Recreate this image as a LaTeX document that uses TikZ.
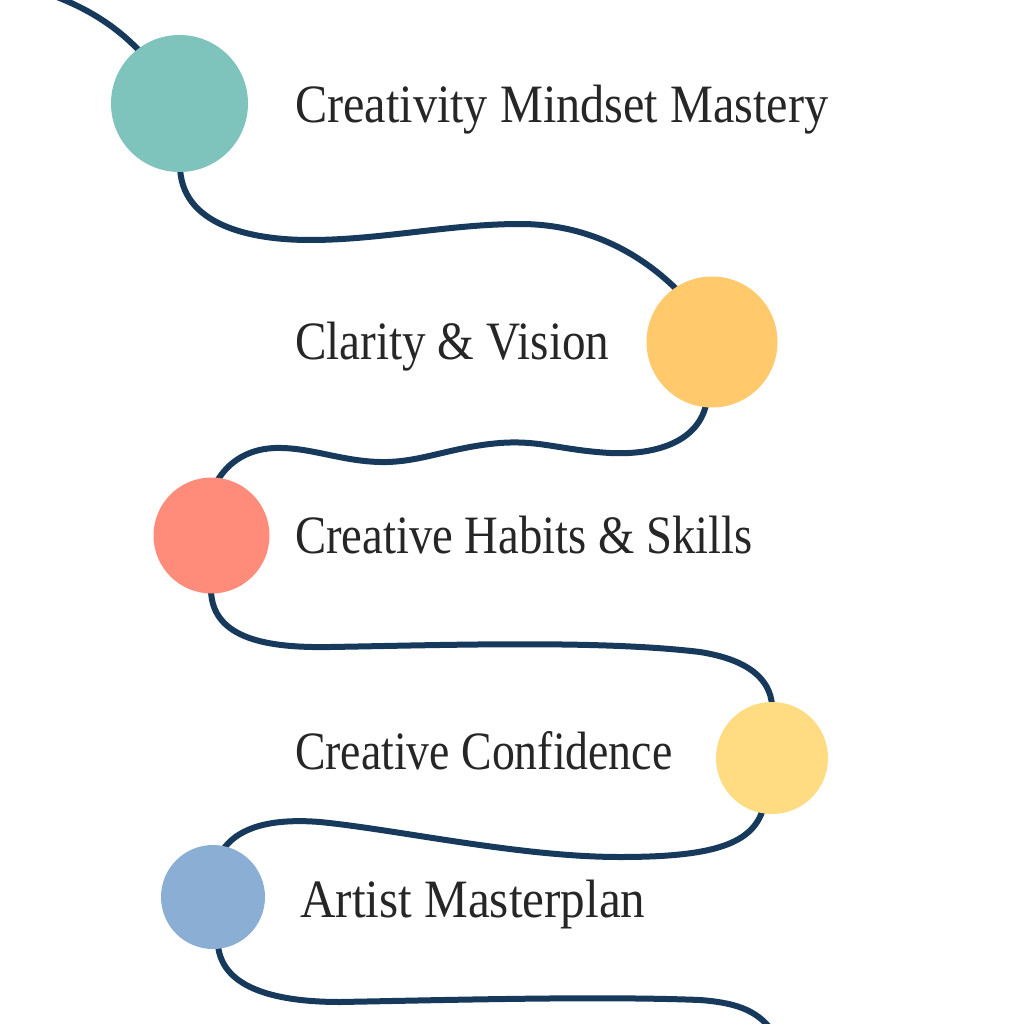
\documentclass[tikz,border=0pt]{standalone}
\usepackage{fontspec}
\setmainfont{Liberation Serif}
\usetikzlibrary{backgrounds}
\definecolor{pathcol}{HTML}{173A5C}
\definecolor{txtcol}{HTML}{262626}
\definecolor{cteal}{HTML}{7FC3BD}
\definecolor{corange}{HTML}{FFC96C}
\definecolor{csalmon}{HTML}{FF8C7A}
\definecolor{cyellow}{HTML}{FFDB82}
\definecolor{cblue}{HTML}{8BAFD4}
\tikzset{
  dot/.style={circle, inner sep=0pt, minimum size=#1, draw=none},
  lbl/.style={anchor=base west, inner sep=0pt, text=txtcol, font=\fontsize{54}{60}\selectfont},
  road/.style={draw=pathcol, line width=6pt, line cap=round}
}
\newcommand{\lbltext}[2]{\scalebox{#1}[1]{#2}}
\begin{document}
\begin{tikzpicture}[x=1pt,y=-1pt]
\useasboundingbox (0,0) rectangle (1024,1024);
\node[dot=137pt, fill=cteal] (c1) at (179.5,103.5) {};
\node[dot=131pt, fill=corange] (c2) at (712,342) {};
\node[dot=116pt, fill=csalmon] (c3) at (211.5,535.5) {};
\node[dot=112pt, fill=cyellow] (c4) at (772,758) {};
\node[dot=104pt, fill=cblue] (c5) at (213,897) {};
\coordinate (start) at (30,-12);
\coordinate (finish) at (775,1035);
\node[lbl] (t1) at (295,123) {\lbltext{0.893}{Creativity Mindset Mastery}};
\node[lbl] (t2) at (295,359) {\lbltext{0.873}{Clarity \& Vision}};
\node[lbl] (t3) at (295,553) {\lbltext{0.864}{Creative Habits \& Skills}};
\node[lbl] (t4) at (295,769) {\lbltext{0.847}{Creative Confidence}};
\node[lbl] (t5) at (300,917) {\lbltext{0.91}{Artist Masterplan}};
\begin{scope}[on background layer]
\fill[white] (0,0) rectangle (1024,1024);
\draw[road] (start) .. controls (90,5) and (130,35) .. (155,70) -- (c1.center);
\draw[road] (c1.center) -- (180,165) .. controls (180,225) and (250,240) .. (310,240)
  .. controls (380,240) and (450,224) .. (520,224)
  .. controls (590,224) and (645,255) .. (685,298) -- (c2.center);
\draw[road] (c2.center) -- (707,400) .. controls (700,445) and (650,455) .. (610,453)
  .. controls (560,450) and (540,440) .. (500,443)
  .. controls (450,447) and (420,463) .. (380,462)
  .. controls (340,461) and (310,447) .. (275,448)
  .. controls (245,449) and (225,465) .. (215,485) -- (c3.center);
\draw[road] (c3.center) -- (211,590) .. controls (212,640) and (270,648) .. (330,647)
  .. controls (450,645) and (600,640) .. (700,652)
  .. controls (750,660) and (770,680) .. (772,705) -- (c4.center);
\draw[road] (c4.center) -- (762,812) .. controls (750,845) and (710,857) .. (620,857)
  .. controls (520,857) and (400,830) .. (320,822)
  .. controls (270,818) and (240,828) .. (225,847) -- (c5.center);
\draw[road] (c5.center) -- (218,945) .. controls (222,990) and (280,1002) .. (340,1002)
  .. controls (450,1000) and (600,996) .. (700,1000)
  .. controls (740,1003) and (760,1012) .. (finish);
\end{scope}
\end{tikzpicture}
\end{document}
